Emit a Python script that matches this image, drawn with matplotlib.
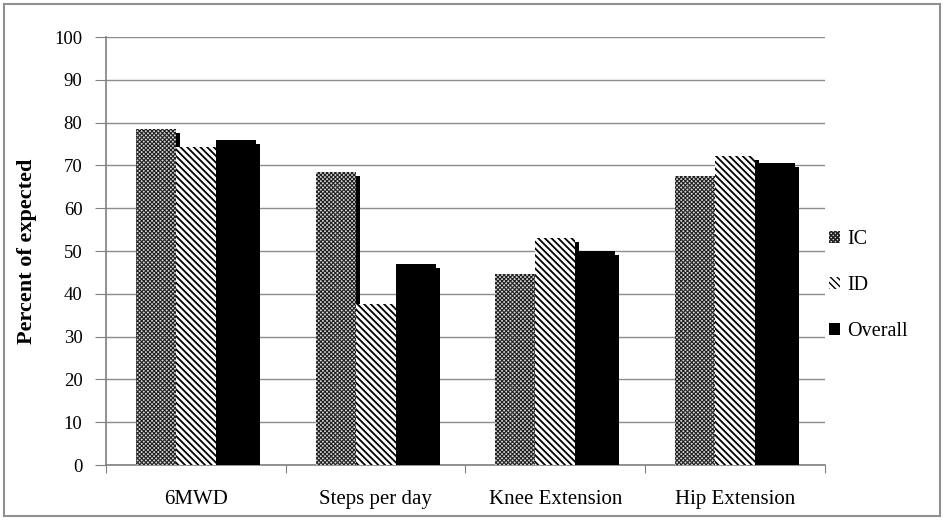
import matplotlib
matplotlib.use("Agg")
import matplotlib.pyplot as plt
import matplotlib.transforms as mtransforms
from matplotlib.patches import Rectangle
import numpy as np

categories = ["6MWD", "Steps per day", "Knee Extension", "Hip Extension"]
series_names = ["IC", "ID", "Overall"]
ic_values = [78.5, 68.5, 44.7, 67.5]
id_values = [74.4, 37.6, 53.0, 72.3]
overall_values = [75.9, 46.9, 50.1, 70.5]
yticks = [0, 10, 20, 30, 40, 50, 60, 70, 80, 90, 100]

plt.rcParams['font.family'] = ['Liberation Serif', 'DejaVu Serif']

fig = plt.figure(figsize=(9.45, 5.2), dpi=100)
ax = fig.add_axes([106/945, 1-465/520, (825-106)/945, (465-37)/520])

# figure border
fig.patches.append(Rectangle((4/945, 4/520), 936/945, 512/520, transform=fig.transFigure,
                             fill=False, edgecolor='#909090', linewidth=1.5))

styles = [
    dict(facecolor='#d8d8d8', edgecolor='#202020', hatch='x'*8, linewidth=0),
    dict(facecolor='white', edgecolor='black', hatch='\\'*5, linewidth=0),
    dict(facecolor='black', edgecolor='black', hatch=None, linewidth=0),
]
hatch_lw = [0.8, 1.3, 1.0]
all_vals = [ic_values, id_values, overall_values]
width = 40/180
x = np.arange(len(categories)) + 0.5
offsets = [-width, 0, width]
shadow_tr = ax.transData + mtransforms.ScaledTranslation(4/100, -4/100, fig.dpi_scale_trans)

handles = []
for i, (vals, st) in enumerate(zip(all_vals, styles)):
    plt.rcParams['hatch.linewidth'] = hatch_lw[i]
    sh = ax.bar(x + offsets[i], vals, width, color='black', linewidth=0, zorder=2+i*2)
    for p in sh:
        p.set_transform(shadow_tr)
    b = ax.bar(x + offsets[i], vals, width, zorder=3+i*2, label=series_names[i], **st)
    for p in b:
        if hasattr(p, 'set_hatch_linewidth'):
            p.set_hatch_linewidth(hatch_lw[i])
    handles.append(b)

ax.set_xlim(0, 4)
ax.set_ylim(0, 100)
ax.set_yticks(yticks)
ax.set_xticks([0, 1, 2, 3, 4])
ax.set_xticklabels([])
ax.set_xticks(x, minor=True)
ax.set_xticklabels(categories, minor=True, fontsize=15)
ax.tick_params(axis='x', which='minor', length=0, pad=18)
ax.tick_params(axis='x', which='major', length=6, color='#808080', direction='out')
ax.tick_params(axis='y', length=8, color='#808080', labelsize=13.5, pad=9)
ax.yaxis.grid(True, color='#8c8c8c', linewidth=1)
ax.set_axisbelow(True)
for s in ['top', 'right']:
    ax.spines[s].set_visible(False)
for s in ['left', 'bottom']:
    ax.spines[s].set_color('#808080')
    ax.spines[s].set_linewidth(1.2)

ax.set_ylabel("Percent of expected", fontsize=16, fontweight='bold')
ax.yaxis.set_label_coords(-0.096, 0.5)

leg = fig.legend(handles=handles, labels=series_names, loc='upper left',
                 bbox_to_anchor=(823/945, 1-224/520), frameon=False, fontsize=14.5,
                 labelspacing=1.35, handlelength=0.55, handleheight=0.55, handletextpad=0.35,
                 borderaxespad=0, borderpad=0.3)

fig.savefig("out.png", dpi=100)
